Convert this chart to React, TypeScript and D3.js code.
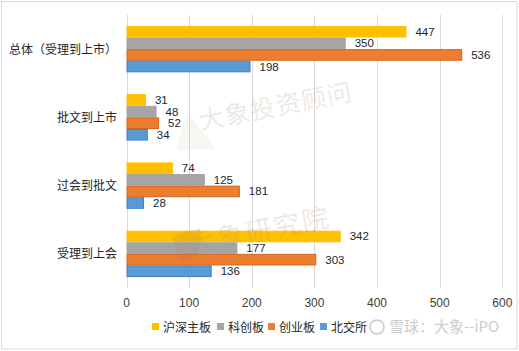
import { useEffect, useRef } from "react";
import * as d3 from "d3";

const categories = ["总体（受理到上市）", "批文到上市", "过会到批文", "受理到上会"];
const seriesNames = ["沪深主板", "科创板", "创业板", "北交所"];
const mainBoard = [447, 31, 74, 342];
const starMarket = [350, 48, 125, 177];
const chinext = [536, 52, 181, 303];
const bse = [198, 34, 28, 136];
const xTicks = [0, 100, 200, 300, 400, 500, 600];

const COLORS = ["#FFC000", "#A5A5A5", "#ED7D31", "#5B9BD5"];
const STROKES = ["#FFC000", "#A5A5A5", "#D9641C", "#3F7FC4"];

const App = () => {
  const svgRef = useRef<SVGSVGElement | null>(null);

  useEffect(() => {
    const W = 519;
    const H = 351;
    const M = { top: 15, right: 17, bottom: 63, left: 126.5 };
    const values = [mainBoard, starMarket, chinext, bse];

    const svg = d3.select(svgRef.current).attr("width", W).attr("height", H);
    svg.selectAll("*").remove();

    const cjk = "'Noto Sans CJK SC', sans-serif";
    const num = "'Liberation Sans', 'Noto Sans CJK SC', sans-serif";

    svg.append("rect").attr("width", W).attr("height", H).attr("fill", "#fff");
    svg
      .append("rect")
      .attr("x", 1.5)
      .attr("y", 1.5)
      .attr("width", W - 3.5)
      .attr("height", H - 3.5)
      .attr("fill", "none")
      .attr("stroke", "#d9d9d9");

    const x = d3.scaleLinear().domain([0, 600]).range([M.left, W - M.right + 0.3]);
    const y0 = d3
      .scaleBand()
      .domain(categories)
      .range([M.top, H - M.bottom])
      .paddingInner(0.32)
      .paddingOuter(0.16);
    const y1 = d3.scaleBand().domain(seriesNames).range([0, y0.bandwidth()]);

    // grid
    svg
      .append("g")
      .selectAll("line")
      .data(xTicks)
      .enter()
      .append("line")
      .attr("x1", (d) => Math.round(x(d)) + 0.5)
      .attr("x2", (d) => Math.round(x(d)) + 0.5)
      .attr("y1", M.top)
      .attr("y2", H - M.bottom)
      .attr("stroke", "#d9d9d9");

    svg
      .append("g")
      .selectAll("text")
      .data(xTicks)
      .enter()
      .append("text")
      .attr("x", (d) => x(d))
      .attr("y", 307)
      .attr("text-anchor", "middle")
      .attr("font-family", num)
      .attr("font-size", 12)
      .attr("fill", "#404040")
      .text((d) => d);

    // category labels
    svg
      .append("g")
      .selectAll("text")
      .data(categories)
      .enter()
      .append("text")
      .attr("x", 117)
      .attr("y", (d) => (y0(d) as number) + y0.bandwidth() / 2 + 4.5)
      .attr("text-anchor", "end")
      .attr("font-family", cjk)
      .attr("font-size", 12)
      .attr("fill", "#262626")
      .text((d) => d);

    // bars
    seriesNames.forEach((s, si) => {
      const g = svg.append("g");
      g.selectAll("rect")
        .data(categories)
        .enter()
        .append("rect")
        .attr("x", x(0) + 0.5)
        .attr("y", (d) => (y0(d) as number) + (y1(s) as number) + 0.5)
        .attr("width", (_, i) => x(values[si][i]) - x(0) - 1)
        .attr("height", y1.bandwidth() - 1)
        .attr("fill", COLORS[si])
        .attr("stroke", STROKES[si]);
      g.selectAll("text")
        .data(categories)
        .enter()
        .append("text")
        .attr("x", (_, i) => x(values[si][i]) + 9)
        .attr("y", (d) => (y0(d) as number) + (y1(s) as number) + y1.bandwidth() / 2 + 4)
        .attr("font-family", num)
        .attr("font-size", 11.5)
        .attr("fill", "#1e1e2e")
        .text((_, i) => values[si][i]);
    });

    // watermarks (drawn over the bars, faint)
    const wm = svg.append("g").attr("font-family", cjk).attr("pointer-events", "none");
    wm.append("polygon")
      .attr("points", "176,150 188,112 216,150")
      .attr("fill", "rgba(176,150,120,0.09)");
    wm.append("text")
      .attr("transform", "translate(201,130) rotate(-11)")
      .attr("font-size", 25)
      .attr("letter-spacing", 1)
      .attr("fill", "rgba(176,150,120,0.22)")
      .text("大象投资顾问");
    wm.append("polygon")
      .attr("points", "172,236 200,228 198,256 180,262")
      .attr("fill", "rgba(140,110,80,0.12)");
    wm.append("text")
      .attr("transform", "translate(190,254) rotate(-11)")
      .attr("font-size", 27)
      .attr("letter-spacing", 2)
      .attr("fill", "rgba(176,150,120,0.22)")
      .text("大象研究院");

    // legend
    const legendX = [152, 217, 268, 320];
    const lg = svg.append("g");
    seriesNames.forEach((s, i) => {
      lg.append("rect")
        .attr("x", legendX[i])
        .attr("y", 323)
        .attr("width", 7)
        .attr("height", 7)
        .attr("fill", COLORS[i]);
      lg.append("text")
        .attr("x", legendX[i] + 11)
        .attr("y", 331.5)
        .attr("font-family", cjk)
        .attr("font-size", 12)
        .attr("fill", "#262626")
        .text(s);
    });

    // source mark
    const src = svg.append("g");
    src
      .append("circle")
      .attr("cx", 377)
      .attr("cy", 327)
      .attr("r", 7)
      .attr("fill", "rgba(255,255,255,0.6)")
      .attr("stroke", "#c8c8c8")
      .attr("stroke-width", 1.5);
    src
      .append("text")
      .attr("x", 389)
      .attr("y", 332)
      .attr("font-family", cjk)
      .attr("font-size", 15)
      .attr("fill", "#cccccc")
      .text("雪球：大象--iPO");
  }, []);

  return <svg ref={svgRef} style={{ position: "absolute", left: 0, top: 0 }} />;
};

export default App;
